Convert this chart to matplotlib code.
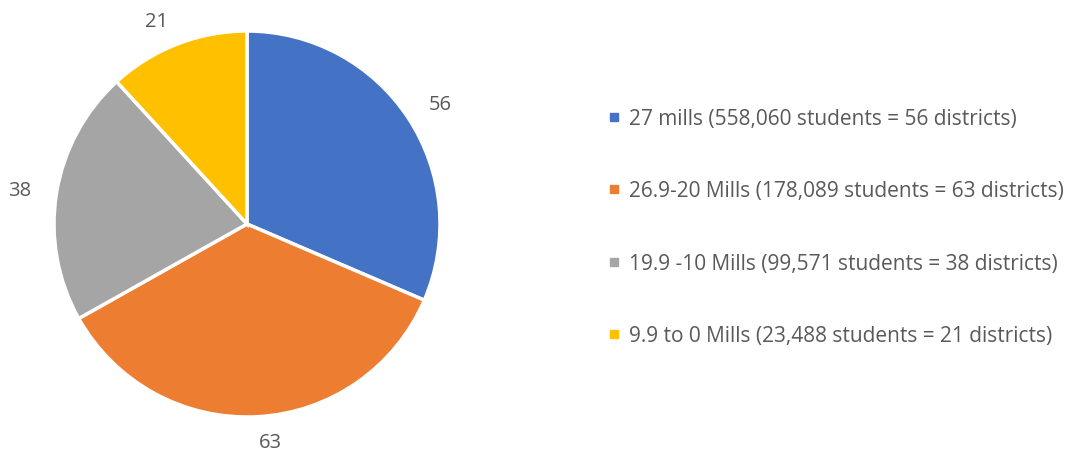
import matplotlib
matplotlib.use("Agg")
import matplotlib.pyplot as plt
from matplotlib.lines import Line2D

values = [56, 63, 38, 21]
labels = ["27 mills (558,060 students = 56 districts)",
          "26.9-20 Mills (178,089 students = 63 districts)",
          "19.9 -10 Mills (99,571 students = 38 districts)",
          "9.9 to 0 Mills (23,488 students = 21 districts)"]
colors = ["#4472C4", "#ED7D31", "#A5A5A5", "#FFC000"]

plt.rcParams['font.family'] = ['Open Sans', 'DejaVu Sans']
W, H = 1078, 460
fig = plt.figure(figsize=(W/100, H/100), dpi=100)
cx, cy, r = 247, 225, 193
ax = fig.add_axes([(cx - r)/W, (H - cy - r)/H, 2*r/W, 2*r/H])
wedges, texts = ax.pie(values, colors=colors, startangle=90, counterclock=False,
                       labels=[str(v) for v in values], labeldistance=1.13,
                       wedgeprops=dict(edgecolor="white", linewidth=2.5),
                       textprops=dict(color="#595959", fontsize=14.5))
ax.set_xlim(-1, 1); ax.set_ylim(-1, 1)
ax.set_aspect('equal')
ax.axis('off')

handles = [Line2D([], [], marker='s', linestyle='none', markersize=6,
                  markerfacecolor=c, markeredgecolor=c) for c in colors]
leg = fig.legend(handles, labels, loc='upper left', bbox_to_anchor=(609/W, 1 - 109/H),
                 frameon=False, handlelength=0.5, handletextpad=0.45,
                 labelspacing=2.47, fontsize=15, labelcolor="#595959",
                 borderaxespad=0, borderpad=0)
fig.savefig("out.png", dpi=100)
